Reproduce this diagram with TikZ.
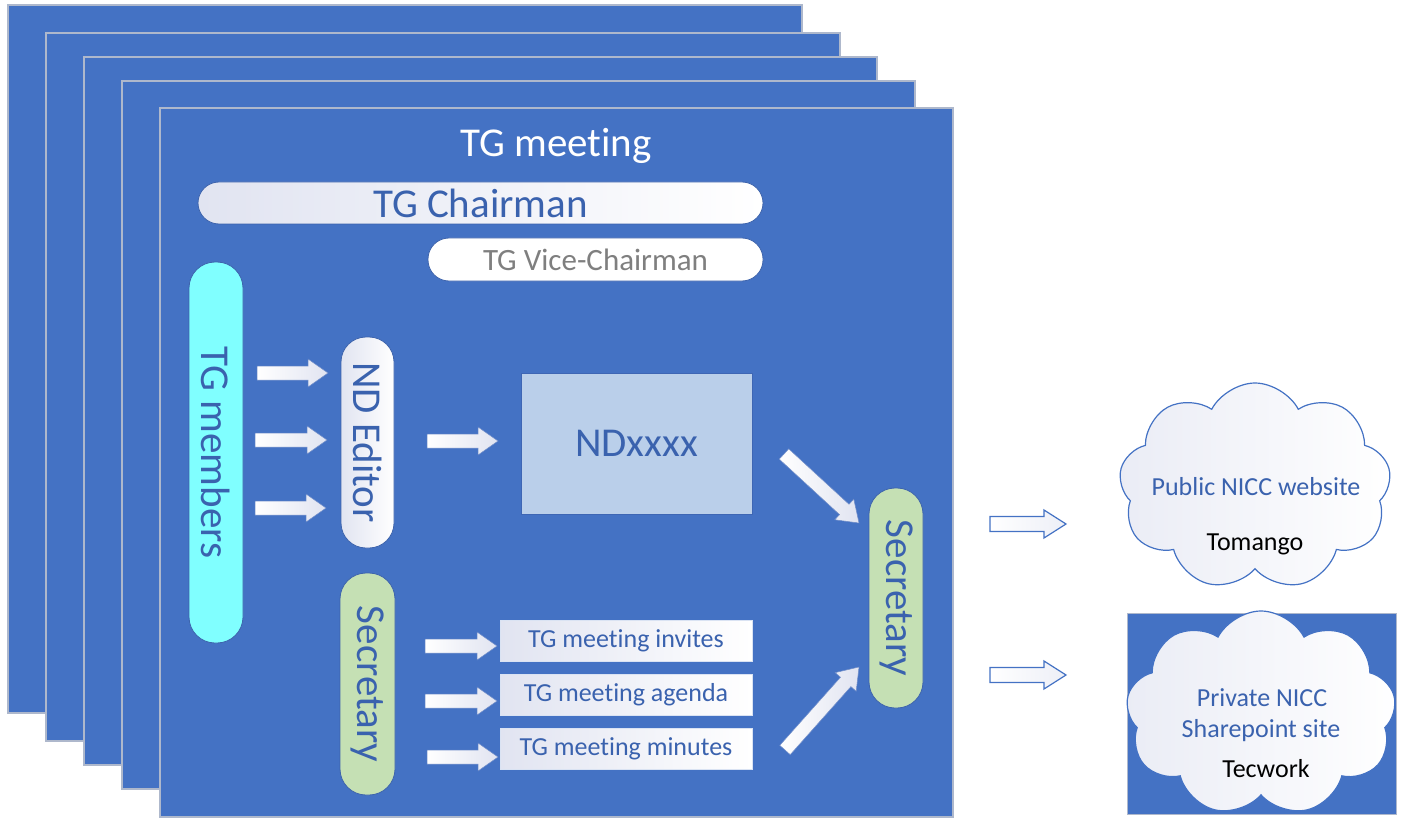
\documentclass[tikz,border=0pt]{standalone}
\usepackage{fontspec}
\setmainfont[Ligatures={NoCommon,NoRequired,NoContextual}]{Carlito}
\usetikzlibrary{calc,shapes.symbols}
\definecolor{pageblue}{HTML}{4472C4}
\definecolor{pageedge}{HTML}{AEB8CC}
\definecolor{txtblue}{HTML}{3A62AE}
\definecolor{pilledge}{HTML}{3D63AC}
\definecolor{lav}{HTML}{E1E4F1}
\definecolor{cyanfill}{HTML}{80FFFF}
\definecolor{greenfill}{HTML}{C5E0B4}
\definecolor{ndfill}{HTML}{BACFEA}
\definecolor{ndedge}{HTML}{3E66B4}
\definecolor{greytxt}{HTML}{7F7F7F}
\definecolor{arrowedge}{HTML}{6F8CC8}
\newcommand\blockarrow[6][whitearrow]{%
  \coordinate (bas) at ($(#3)!#6!(#2)$);
  \draw[#1] ($(#2)!#4!90:(#3)$) -- ($(bas)!#4!90:(#3)$) -- ($(bas)!#5!90:(#3)$)
    -- (#3) -- ($(bas)!#5!-90:(#3)$) -- ($(bas)!#4!-90:(#3)$) -- ($(#2)!#4!-90:(#3)$) -- cycle;
}
\begin{document}
\begin{tikzpicture}[x=1pt,y=-1pt,
  page/.style={fill=pageblue,draw=pageedge,line width=1.1pt},
  big/.style={font=\fontsize{41}{49}\selectfont},
  mid/.style={font=\fontsize{31}{37}\selectfont},
  small/.style={font=\fontsize{26}{31}\selectfont},
  pill/.style={draw=pilledge,line width=0.8pt,inner sep=0pt,text=txtblue},
  docbox/.style={draw=white!80!pageblue,line width=0.8pt,left color=lav,right color=white,
    minimum width=252pt,minimum height=41pt,inner sep=0pt,text=txtblue,small},
  whitearrow/.style={draw=arrowedge,line width=0.5pt,left color=white,right color=lav},
  outarrow/.style={draw=pageblue,line width=1.2pt,left color=white,right color=lav!60!white},
  cloudshape/.style={cloud,cloud puffs=9,cloud puff arc=125,draw=pageblue,line width=1.2pt,
    left color=lav!70!white,right color=white,inner sep=0pt},
]
\useasboundingbox (0,0) rectangle (1403,821);
% stacked pages
\draw[page] (8,5) rectangle (802,713);
\draw[page] (46,33) rectangle (840,741);
\draw[page] (84,57) rectangle (877,765);
\draw[page] (122,81) rectangle (915,789);
\draw[page] (160,108) rectangle (953,817);

\node[big,text=white,inner sep=0pt] (title) at (556,146) {TG meeting};
\node[pill,big,left color=lav,right color=white,minimum width=565pt,minimum height=42pt,
  rounded corners=21pt] (chair) at (480.5,203) {TG Chairman};
\node[pill,mid,fill=white,text=greytxt,minimum width=335pt,minimum height=43pt,
  rounded corners=21pt] (vice) at (595.5,259.5) {TG Vice-Chairman};

\node[pill,big,fill=cyanfill,rotate=-90,minimum width=381pt,minimum height=54pt,
  rounded corners=26pt] (members) at (216,452.5) {TG members};
\node[pill,big,left color=lav,right color=white,rotate=-90,minimum width=211pt,minimum height=53pt,
  rounded corners=25pt] (editor) at (367.5,442.5) {ND Editor};
\node[pill,big,fill=greenfill,rotate=-90,minimum width=222pt,minimum height=55pt,
  rounded corners=26pt] (secl) at (367.5,684) {Secretary};
\node[pill,big,fill=greenfill,rotate=-90,minimum width=220pt,minimum height=54pt,
  rounded corners=26pt] (secr) at (896,598) {Secretary};

\node[draw=ndedge,line width=0.8pt,fill=ndfill,minimum width=231pt,minimum height=141pt,
  inner sep=0pt,text=txtblue,big] (nd) at (636.5,443.5) {NDxxxx};

\node[docbox] (inv) at (626,641) {TG meeting invites};
\node[docbox] (agd) at (626,694.5) {TG meeting agenda};
\node[docbox] (mins) at (626,748.5) {TG meeting minutes};

% white block arrows
\coordinate (a1s) at (257,373); \coordinate (a1e) at (328,373);
\coordinate (a2s) at (255,440); \coordinate (a2e) at (327,440);
\coordinate (a3s) at (255,508); \coordinate (a3e) at (326,508);
\coordinate (a4s) at (427,441); \coordinate (a4e) at (498,441);
\coordinate (b1s) at (425,646); \coordinate (b1e) at (497,646);
\coordinate (b2s) at (425,701); \coordinate (b2e) at (497,701);
\coordinate (b3s) at (427,757); \coordinate (b3e) at (498,757);
\coordinate (d1s) at (784,454); \coordinate (d1e) at (859,523);
\coordinate (d2s) at (785,750); \coordinate (d2e) at (859,667);
\foreach \s/\e in {a1s/a1e,a2s/a2e,a3s/a3e,a4s/a4e,b1s/b1e,b2s/b2e,b3s/b3e,d1s/d1e,d2s/d2e}
  {\blockarrow{\s}{\e}{7pt}{14pt}{20pt}}

% right side
\node[draw=pageedge,line width=1pt,fill=pageblue,minimum width=269pt,minimum height=201pt,
  inner sep=0pt] (privbg) at (1261.5,713.5) {};
\node[cloudshape,minimum width=272pt,minimum height=207pt] (cloud1) at (1255,486.5) {};
\node[cloudshape,minimum width=270pt,minimum height=205pt] (cloud2) at (1261,713.5) {};

\node[small,text=txtblue,inner sep=0pt] (pub) at (1256,487) {Public NICC website};
\node[small,text=black,inner sep=0pt] (tom) at (1255,544) {Tomango};
\node[small,text=txtblue,inner sep=0pt] (priv1) at (1262,698) {Private NICC};
\node[small,text=txtblue,inner sep=0pt] (priv2) at (1261,731) {Sharepoint site};
\node[small,text=black,inner sep=0pt] (tec) at (1266,769) {Tecwork};

\coordinate (o1s) at (990,524); \coordinate (o1e) at (1066,524);
\coordinate (o2s) at (990,675); \coordinate (o2e) at (1066,675);
\blockarrow[outarrow]{o1s}{o1e}{7.5pt}{14pt}{22pt}
\blockarrow[outarrow]{o2s}{o2e}{7.5pt}{14pt}{22pt}
\end{tikzpicture}
\end{document}
